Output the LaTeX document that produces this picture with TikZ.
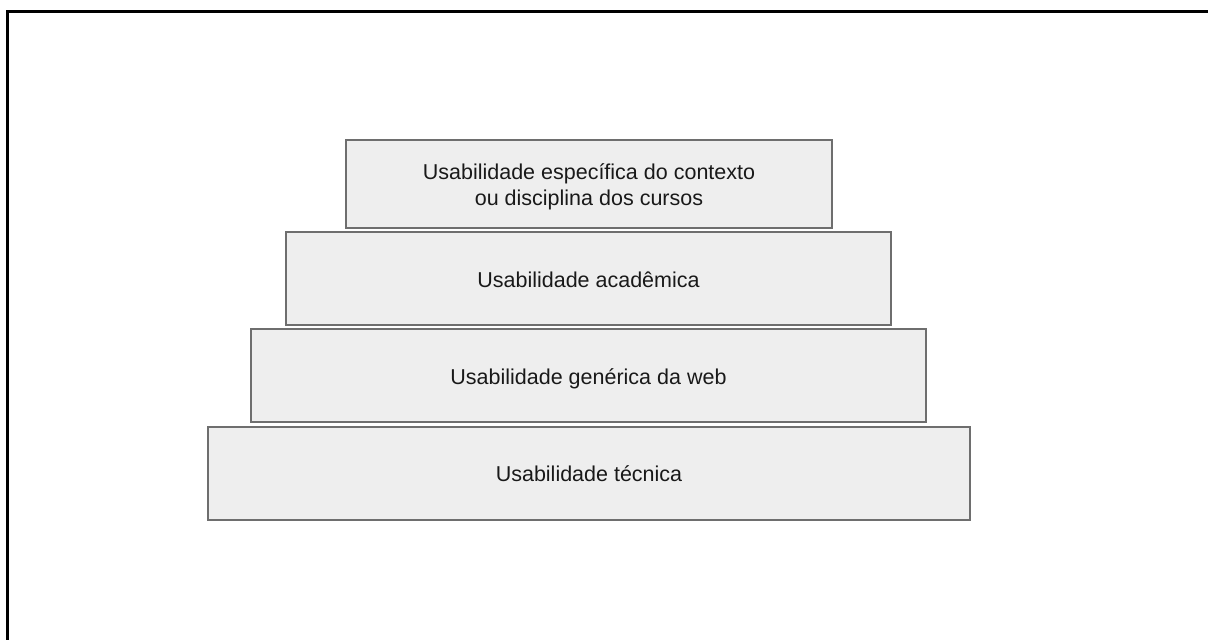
\documentclass[tikz,border=0pt]{standalone}
\usepackage{fontspec}
\setmainfont{Liberation Sans}
\definecolor{boxfill}{HTML}{EEEEEE}
\definecolor{boxline}{HTML}{6E6E6E}
\tikzset{
  level/.style={draw=boxline, fill=boxfill, line width=1.3pt, align=center,
    font=\fontsize{21.5}{26}\selectfont, text=black!90, inner sep=0pt},
  frame/.style={line width=3pt, draw=black}
}
\begin{document}
\begin{tikzpicture}[x=1pt,y=-1pt]
\useasboundingbox (0,0) rectangle (1208,640);
\draw[frame] (7.5,660) |- (1220,11.5);
\path[level] (346,140) rectangle (832,228) node (l1) [midway, yshift=-3pt, draw=none, fill=none] {Usabilidade específica do contexto\\ou disciplina dos cursos};
\path[level] (286,232) rectangle (891,325) node (l2) [midway, yshift=-1pt, draw=none, fill=none] {Usabilidade acadêmica};
\path[level] (251,329) rectangle (926,422) node (l3) [midway, yshift=-3pt, draw=none, fill=none] {Usabilidade genérica da web};
\path[level] (208,427) rectangle (970,520) node (l4) [midway, draw=none, fill=none] {Usabilidade técnica};
\end{tikzpicture}
\end{document}
